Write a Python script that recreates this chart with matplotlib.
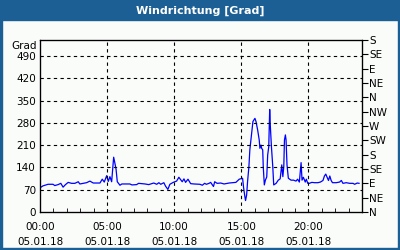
import matplotlib
matplotlib.use("Agg")
import matplotlib.pyplot as plt
from matplotlib.patches import Rectangle

# Stunden ab 05.01.18 00:00 und Windrichtung in Grad
hours = [0.0, 0.22, 0.6, 0.97, 1.1, 1.35, 1.55, 1.72, 1.9, 2.1, 2.35, 2.6, 2.85, 2.97,
         3.2, 3.47, 3.72, 3.97, 4.47, 4.64, 4.79, 4.97, 5.09, 5.21, 5.34, 5.49, 5.56,
         5.67, 5.76, 5.96, 6.1, 6.7, 6.85, 7.2, 7.35, 7.83, 8.1, 8.48, 8.7, 8.86, 9.0,
         9.23, 9.36, 9.53, 9.68, 9.93, 10.18, 10.35, 10.48, 10.6, 10.73, 10.85, 11.03,
         11.23, 11.48, 11.92, 12.1, 12.27, 12.4, 12.6, 12.72, 12.93, 13.02, 13.2, 13.47,
         13.72, 14.1, 14.35, 14.6, 14.85, 15.1, 15.17, 15.27, 15.32, 15.4, 15.47, 15.57,
         15.64, 15.77, 15.87, 15.97, 16.02, 16.1, 16.22, 16.34, 16.39, 16.47, 16.52, 16.6,
         16.64, 16.72, 16.8, 16.9, 16.97, 17.05, 17.12, 17.17, 17.25, 17.35, 17.42, 17.6,
         17.76, 17.9, 18.02, 18.1, 18.17, 18.22, 18.29, 18.34, 18.41, 18.51, 18.71, 18.9,
         19.08, 19.2, 19.33, 19.46, 19.53, 19.63, 19.77, 19.85, 19.96, 20.08, 20.26, 20.46,
         20.71, 20.9, 21.09, 21.2, 21.3, 21.4, 21.5, 21.6, 21.7, 21.8, 22.08, 22.33, 22.46,
         22.58, 22.83, 23.08, 23.33, 23.45, 23.65, 23.78]
grad = [76, 82, 87, 87, 83, 86, 90, 78, 86, 93, 90, 90, 95, 88,
        90, 92, 97, 91, 91, 103, 94, 114, 96, 111, 95, 172, 158,
        134, 95, 84, 88, 88, 85, 86, 90, 88, 86, 91, 87, 92, 87,
        92, 81, 71, 87, 93, 97, 109, 102, 95, 104, 93, 103,
        89, 88, 87, 84, 90, 87, 90, 93, 80, 95, 90, 91,
        88, 91, 92, 93, 103, 106, 78, 48, 36, 53, 95, 142,
        195, 247, 284, 291, 294, 284, 258, 226, 200, 210, 200, 195,
        142, 85, 100, 110, 179, 205, 322, 268, 205, 142, 85, 90,
        100, 104, 148, 111, 142, 226, 242, 226, 148, 106, 100, 100,
        97, 103, 94, 155, 100, 109, 94, 103, 90, 90, 93, 92,
        92, 94, 99, 113, 119, 109, 99, 113, 99, 92, 92, 94, 99,
        90, 92, 90, 90, 87, 91, 90]

left_ticks = [0, 70, 140, 210, 280, 350, 420, 490]
right_ticks = list(range(0, 541, 45))
right_labels = ["N", "NE", "E", "SE", "S", "SW", "W", "NW", "N", "NE", "E", "SE", "S"]
x_major = [0, 5, 10, 15, 20]
x_labels = ["00:00\n05.01.18", "05:00\n05.01.18", "10:00\n05.01.18",
            "15:00\n05.01.18", "20:00\n05.01.18"]

bar = "#1c5f94"
plt.rcParams["font.family"] = "DejaVu Sans"
plt.rcParams["font.size"] = 7.5

fig = plt.figure(figsize=(4, 2.5), dpi=100, facecolor="#fafcfa")
ax = fig.add_axes([0.1, 0.152, 0.805, 0.688])
ax.set_facecolor("#fafcfa")
ax.plot(hours, grad, color="#0000ff", lw=0.9)
ax.set_xlim(0, 24)
ax.set_ylim(0, 540)

ax.set_yticks(left_ticks)
ax.tick_params(axis="y", length=0, pad=3)
ax.set_xticks(x_major)
ax.set_xticklabels(x_labels, linespacing=1.7)
ax.set_xticks(range(0, 25), minor=True)
ax.tick_params(axis="x", which="both", direction="in", length=3, pad=7)
ax.tick_params(axis="x", which="major", length=0)
for v in left_ticks[1:]:
    ax.axhline(v, color="black", ls=(0, (3, 3)), lw=0.8)
for h in x_major[1:]:
    ax.axvline(h, color="black", ls=(0, (3, 3)), lw=0.8)
for s in ax.spines.values():
    s.set_linewidth(0.9)

ax2 = ax.twinx()
ax2.set_ylim(0, 540)
ax2.set_yticks(right_ticks)
ax2.set_yticklabels(right_labels)
ax2.tick_params(axis="y", direction="out", length=4, pad=1)

ax.text(-0.01, 0.965, "Grad", transform=ax.transAxes, ha="right", va="center")

# Rahmen und Titelleiste
fig.patches.append(Rectangle((0, 0.92), 1, 0.08, transform=fig.transFigure,
                             color=bar, zorder=-1))
fig.patches.append(Rectangle((0, 0), 0.005, 1, transform=fig.transFigure, color=bar))
fig.patches.append(Rectangle((0.995, 0), 0.005, 1, transform=fig.transFigure, color=bar))
fig.patches.append(Rectangle((0, 0), 1, 0.008, transform=fig.transFigure, color=bar))
fig.text(0.5, 0.958, "Windrichtung [Grad]", color="white", ha="center", va="center",
         fontsize=8, fontweight="bold")

fig.savefig("out.png", dpi=100, facecolor=fig.get_facecolor())
